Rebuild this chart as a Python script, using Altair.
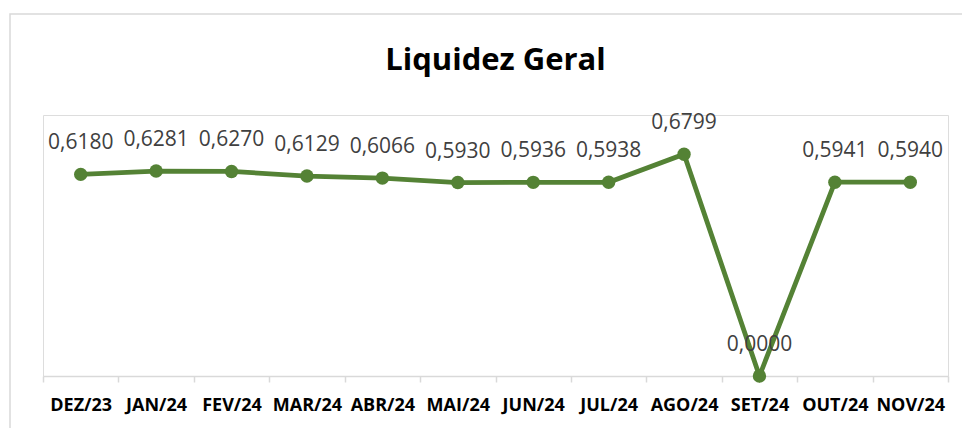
import altair as alt
import pandas as pd

months = ["DEZ/23", "JAN/24", "FEV/24", "MAR/24", "ABR/24", "MAI/24",
          "JUN/24", "JUL/24", "AGO/24", "SET/24", "OUT/24", "NOV/24"]
values = [0.6180, 0.6281, 0.6270, 0.6129, 0.6066, 0.5930,
          0.5936, 0.5938, 0.6799, 0.0000, 0.5941, 0.5940]

df = pd.DataFrame({
    "mes": months,
    "valor": values,
    "rotulo": [f"{v:.4f}".replace(".", ",") for v in values],
})

GREEN = "#548235"
FONT = "Open Sans"

x = alt.X("mes:N", sort=months, title=None,
          scale=alt.Scale(type="band", paddingInner=0, paddingOuter=0),
          axis=alt.Axis(labelAngle=0, labelFont=FONT, labelFontSize=18,
                        labelFontWeight="bold", labelColor="#000000",
                        labelBaseline="alphabetic", labelPadding=28,
                        tickBand="extent", tickSize=6, tickColor="#d9d9d9",
                        tickWidth=1.5, domainColor="#d9d9d9", domainWidth=1.5,
                        grid=False))
y = alt.Y("valor:Q", scale=alt.Scale(domain=[0, 0.8]), axis=None)

base = alt.Chart(df)

border = alt.Chart(pd.DataFrame({"b": [0]})).mark_rect(
    fill=None, stroke="#d9d9d9", strokeWidth=1.5
).encode(x=alt.value(-33), x2=alt.value(1000), y=alt.value(-101), y2=alt.value(400))

line = base.mark_line(color=GREEN, strokeWidth=4.8).encode(x=x, y=y)
pts = base.mark_point(filled=True, opacity=1, color=GREEN, size=180).encode(x=x, y=y)
labels = base.mark_text(font=FONT, fontSize=21, color="#404040",
                        baseline="alphabetic", dy=-25).encode(x=x, y=y, text="rotulo:N")

chart = alt.layer(border, line, pts, labels).properties(
    width=905, height=261,
    title=alt.TitleParams("Liquidez Geral", font=FONT, fontSize=31,
                          fontWeight="bold", color="#000000",
                          anchor="middle", frame="group",
                          baseline="alphabetic", offset=-88),
    autosize=alt.AutoSizeParams(type="none"),
    padding={"left": 35, "top": 107, "right": 14, "bottom": 52},
).configure_view(stroke=None).configure(background="#ffffff")

chart.save("out.html", embed_options={"renderer": "svg", "actions": False})
